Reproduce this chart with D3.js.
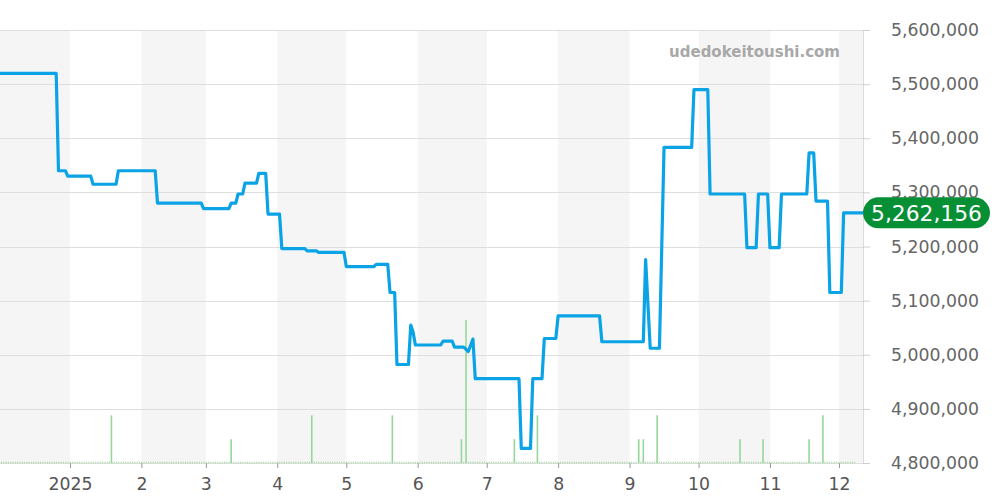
<!DOCTYPE html>
<html><head><meta charset="utf-8">
<script src="https://cdn.jsdelivr.net/npm/d3@7"></script>
<style>body{margin:0;background:#fff;}svg{display:block;font-family:"DejaVu Sans",sans-serif;}</style>
</head><body><svg id="c" width="1000" height="500"></svg>
<script>
// ---- data ----
const priceDates = ["2024-12-01","2024-12-26","2024-12-27","2024-12-30","2024-12-31","2025-01-10","2025-01-11","2025-01-21","2025-01-22","2025-02-07","2025-02-08","2025-02-27","2025-02-28","2025-03-11","2025-03-12","2025-03-14","2025-03-15","2025-03-17","2025-03-18","2025-03-23","2025-03-24","2025-03-27","2025-03-28","2025-04-02","2025-04-03","2025-04-13","2025-04-14","2025-04-18","2025-04-19","2025-04-30","2025-05-01","2025-05-13","2025-05-14","2025-05-19","2025-05-20","2025-05-22","2025-05-23","2025-05-28","2025-05-29","2025-05-30","2025-05-31","2025-06-11","2025-06-12","2025-06-16","2025-06-17","2025-06-21","2025-06-23","2025-06-25","2025-06-26","2025-07-15","2025-07-16","2025-07-20","2025-07-21","2025-07-25","2025-07-26","2025-07-31","2025-08-01","2025-08-19","2025-08-20","2025-09-07","2025-09-08","2025-09-10","2025-09-14","2025-09-16","2025-09-28","2025-09-29","2025-10-05","2025-10-06","2025-10-21","2025-10-22","2025-10-26","2025-10-27","2025-10-31","2025-11-01","2025-11-05","2025-11-06","2025-11-17","2025-11-18","2025-11-20","2025-11-21","2025-11-26","2025-11-27","2025-12-02","2025-12-03","2025-12-11T12:00"];
const priceValues = [5520000,5520000,5340000,5340000,5330000,5330000,5315000,5315000,5340000,5340000,5280000,5280000,5270000,5270000,5280000,5280000,5297000,5297000,5317000,5317000,5335000,5335000,5260000,5260000,5196000,5196000,5192000,5192000,5189000,5189000,5163000,5163000,5167000,5167000,5115000,5115000,4982000,4982000,5055000,5042000,5018000,5018000,5025000,5025000,5014000,5014000,5006000,5029000,4956000,4956000,4827000,4827000,4956000,4956000,5030000,5030000,5072000,5072000,5024000,5024000,5176000,5012000,5012000,5383000,5383000,5490000,5490000,5297000,5297000,5198000,5198000,5297000,5297000,5198000,5198000,5297000,5297000,5373000,5373000,5284000,5284000,5115000,5115000,5262156,5262156];
const volumeDates = ["2025-01-19","2025-03-12","2025-04-16","2025-05-21","2025-06-20","2025-06-22","2025-07-13","2025-07-23","2025-09-05","2025-09-07","2025-09-13","2025-10-19","2025-10-29","2025-11-18","2025-11-24"];
const volumeValues = [2,1,2,2,1,6,1,2,1,1,2,1,1,1,2];
const yTicks = [4800000,4900000,5000000,5100000,5200000,5300000,5400000,5500000,5600000];
const monthTicks = ["2025-01-01","2025-02-01","2025-03-01","2025-04-01","2025-05-01","2025-06-01","2025-07-01","2025-08-01","2025-09-01","2025-10-01","2025-11-01","2025-12-01"];
const monthLabels = ["2025","2","3","4","5","6","7","8","9","10","11","12"];
const bandStarts = ["2024-12-01","2025-02-01","2025-04-01","2025-06-01","2025-08-01","2025-10-01","2025-12-01"];
const bandEnds   = ["2025-01-01","2025-03-01","2025-05-01","2025-07-01","2025-09-01","2025-11-01","2025-12-11T12:00"];
const lastPrice = 5262156;
const watermark = "udedokeitoushi.com";

// ---- setup ----
const parse = s => new Date(s.length > 10 ? s : s + "T00:00");
const svg = d3.select("#c");
const L = 0, R = 863, T = 30, B = 463;
const x = d3.scaleTime().domain([parse("2024-12-01"), parse("2025-12-11T12:00")]).range([-1.37, 863.2]);
const y = d3.scaleLinear().domain([4800000, 5600000]).range([B, T]);
const yVol = d3.scaleLinear().domain([0, 6]).range([B, 320]);
const fmt = d3.format(",");

svg.append("defs").append("clipPath").attr("id","clip").append("rect").attr("x",L).attr("y",0).attr("width",R-L).attr("height",B+2);

// bands
svg.append("g").selectAll("rect").data(bandStarts.map((s,i)=>[parse(s),parse(bandEnds[i])])).join("rect")
  .attr("x", d=>Math.max(L,x(d[0]))).attr("width", d=>Math.min(R,x(d[1]))-Math.max(L,x(d[0])))
  .attr("y", T).attr("height", B-T).attr("fill","#f5f5f5");

// y grid + axis on right
const yAxis = d3.axisRight(y).tickValues(yTicks).tickSize(7).tickPadding(21).tickFormat(fmt);
const gy = svg.append("g").attr("transform",`translate(${R},0)`).call(yAxis);
gy.select(".domain").attr("stroke","#dcdcdc").attr("d",`M0.5,${T}V${B}`);
gy.selectAll(".tick line").attr("stroke","#cfcfcf");
gy.selectAll(".tick text").attr("fill","#666").attr("font-size","17.3px").attr("font-family","DejaVu Sans");
svg.append("g").selectAll("line").data(yTicks).join("line")
  .attr("x1",L).attr("x2",R).attr("y1",d=>Math.round(y(d))+0.5).attr("y2",d=>Math.round(y(d))+0.5)
  .attr("stroke","#dedede").attr("stroke-width",1);

// x axis
const xAxis = d3.axisBottom(x).tickValues(monthTicks.map(parse)).tickSize(5).tickPadding(10)
  .tickFormat((d,i)=>monthLabels[i]);
const gx = svg.append("g").attr("transform",`translate(0,${B})`).call(xAxis);
gx.select(".domain").remove();
gx.selectAll(".tick line").attr("stroke","#999");
gx.selectAll(".tick text").attr("fill","#555").attr("font-size","17.3px").attr("font-family","DejaVu Sans");

// watermark
svg.append("text").attr("x",840).attr("y",57).attr("text-anchor","end").attr("font-size","15px")
  .attr("font-weight","bold").attr("fill","#a8a8a8").text(watermark);

// volume
const vg = svg.append("g").attr("clip-path","url(#clip)");
vg.append("line").attr("x1",x(parse("2024-12-01"))).attr("x2",x(parse("2025-12-08")))
  .attr("y1",B-0.5).attr("y2",B-0.5).attr("stroke","#9ad89e").attr("stroke-width",1.5).attr("stroke-dasharray","1,1.3");
vg.selectAll("line.v").data(volumeDates.map((d,i)=>({d:parse(d),v:volumeValues[i]}))).join("line").attr("class","v")
  .attr("x1",d=>x(d.d)).attr("x2",d=>x(d.d)).attr("y1",B).attr("y2",d=>yVol(d.v))
  .attr("stroke","#95d79a").attr("stroke-width",1.6);

// price line
const pts = priceDates.map((d,i)=>({d:parse(d),v:priceValues[i]}));
svg.append("g").attr("clip-path","url(#clip)").append("path").datum(pts)
  .attr("d", d3.line().x(d=>x(d.d)).y(d=>y(d.v)))
  .attr("fill","none").attr("stroke","#0aa3e6").attr("stroke-width",3.2).attr("stroke-linejoin","round");

// last price pill
const py = y(lastPrice);
const pill = svg.append("g");
pill.append("rect").attr("x",R).attr("y",py-15.5).attr("width",127).attr("height",31).attr("rx",15.5)
  .attr("fill","#078f36");
pill.append("text").attr("x",R+63.5).attr("y",py).attr("dy","0.36em").attr("text-anchor","middle")
  .attr("fill","#fff").attr("font-size","21.8px").text(fmt(lastPrice));
</script></body></html>
